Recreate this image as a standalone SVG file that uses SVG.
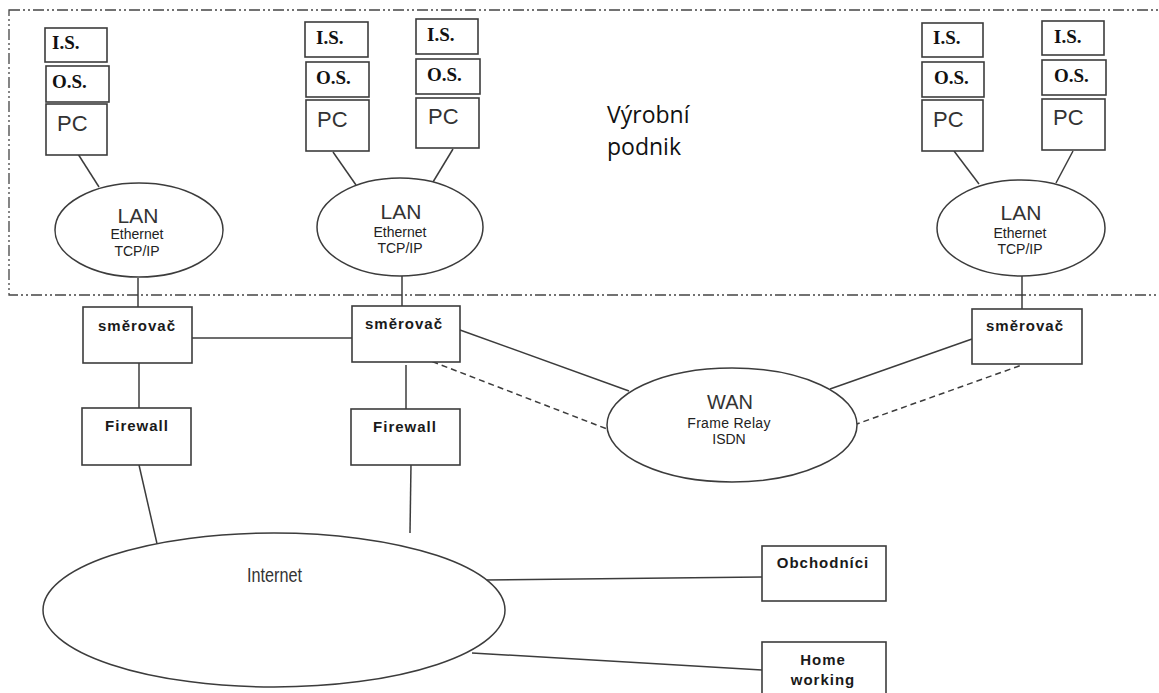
<svg xmlns="http://www.w3.org/2000/svg" width="1159" height="693" viewBox="0 0 1159 693">
<style>
.box{fill:#fff;stroke:#3c3c3c;stroke-width:1.6}
.ell{fill:#fff;stroke:#3c3c3c;stroke-width:1.5}
.ln{stroke:#3c3c3c;stroke-width:1.5;fill:none}
.dash{stroke:#3c3c3c;stroke-width:1.5;fill:none;stroke-dasharray:6 4}
.border{fill:none;stroke:#444;stroke-width:1.3;stroke-dasharray:11 3 2 3 2 3}
.os{font-family:"Liberation Serif",serif;font-weight:bold;font-size:19px;fill:#111}
.pc{font-family:"Liberation Sans",Arial,sans-serif;font-size:22px;fill:#333}
.lan{font-family:"Liberation Sans",Arial,sans-serif;font-size:21px;fill:#333;text-anchor:middle}
.sm{font-family:"Liberation Sans",Arial,sans-serif;font-size:14px;fill:#222;text-anchor:middle}
.bd{font-family:"Liberation Sans",Arial,sans-serif;font-weight:bold;font-size:15px;letter-spacing:1px;fill:#1a1a1a;text-anchor:middle}
.title{font-family:"Open Sans","Noto Sans",sans-serif;font-size:23px;fill:#111}
</style>

<rect class="border" x="9" y="10" width="1170" height="285"/>
<g id="title"><text class="title" x="607" y="123">Výrobní</text><text class="title" x="607" y="155">podnik</text></g>

<g id="connectors">
<line class="ln" x1="78" y1="154" x2="99" y2="187"/>
<line class="ln" x1="333" y1="152" x2="356" y2="185"/>
<line class="ln" x1="453" y1="149" x2="433" y2="182"/>
<line class="ln" x1="954" y1="151" x2="979" y2="184"/>
<line class="ln" x1="1073" y1="151" x2="1056" y2="183"/>
<line class="ln" x1="138" y1="278" x2="138" y2="307"/>
<line class="ln" x1="402" y1="276" x2="402" y2="306"/>
<line class="ln" x1="1022" y1="276" x2="1022" y2="309"/>
<line class="ln" x1="192" y1="338" x2="352" y2="338"/>
<line class="ln" x1="139" y1="363" x2="139" y2="408"/>
<line class="ln" x1="406" y1="365" x2="406" y2="409"/>
<line class="ln" x1="460" y1="330" x2="629" y2="391"/>
<line class="ln" x1="830" y1="389" x2="972" y2="339"/>
<line class="dash" x1="423" y1="358" x2="607" y2="429"/>
<line class="dash" x1="854" y1="425" x2="1022" y2="365"/>
<line class="ln" x1="139" y1="465" x2="158" y2="548"/>
<line class="ln" x1="411" y1="464" x2="410" y2="533"/>
<line class="ln" x1="485" y1="580" x2="762" y2="577"/>
<line class="ln" x1="472" y1="653" x2="762" y2="670"/>
</g>

<g id="pc1">
<rect class="box" x="45" y="28" width="62" height="34"/><text class="os" x="52" y="49">I.S.</text>
<rect class="box" x="46" y="66" width="63" height="36"/><text class="os" x="52" y="88">O.S.</text>
<rect class="box" x="46" y="104" width="61" height="51"/><text class="pc" x="57" y="131">PC</text>
</g>
<g id="pc2">
<rect class="box" x="305" y="22" width="63" height="35"/><text class="os" x="316" y="44">I.S.</text>
<rect class="box" x="306" y="62" width="63" height="35"/><text class="os" x="316" y="84">O.S.</text>
<rect class="box" x="306" y="100" width="63" height="51"/><text class="pc" x="317" y="127">PC</text>
</g>
<g id="pc3">
<rect class="box" x="416" y="19" width="62" height="35"/><text class="os" x="427" y="41">I.S.</text>
<rect class="box" x="416" y="59" width="64" height="35"/><text class="os" x="427" y="81">O.S.</text>
<rect class="box" x="416" y="98" width="63" height="50"/><text class="pc" x="428" y="124">PC</text>
</g>
<g id="pc4">
<rect class="box" x="922" y="23" width="61" height="34"/><text class="os" x="933" y="44">I.S.</text>
<rect class="box" x="922" y="62" width="62" height="35"/><text class="os" x="934" y="84">O.S.</text>
<rect class="box" x="922" y="100" width="61" height="51"/><text class="pc" x="933" y="127">PC</text>
</g>
<g id="pc5">
<rect class="box" x="1042" y="21" width="62" height="34"/><text class="os" x="1054" y="43">I.S.</text>
<rect class="box" x="1042" y="60" width="64" height="35"/><text class="os" x="1054" y="82">O.S.</text>
<rect class="box" x="1042" y="99" width="63" height="51"/><text class="pc" x="1053" y="125">PC</text>
</g>

<g id="lan1">
<ellipse class="ell" cx="139" cy="230" rx="84" ry="47"/>
<text class="lan" x="138" y="223">LAN</text><text class="sm" x="137" y="239">Ethernet</text><text class="sm" x="137" y="256">TCP/IP</text>
</g>
<g id="lan2">
<ellipse class="ell" cx="400" cy="227" rx="83" ry="49"/>
<text class="lan" x="401" y="219">LAN</text><text class="sm" x="400" y="237">Ethernet</text><text class="sm" x="400" y="253">TCP/IP</text>
</g>
<g id="lan3">
<ellipse class="ell" cx="1021" cy="228" rx="84" ry="48"/>
<text class="lan" x="1021" y="220">LAN</text><text class="sm" x="1020" y="238">Ethernet</text><text class="sm" x="1020" y="254">TCP/IP</text>
</g>

<g id="router1"><rect class="box" x="83" y="307" width="109" height="56"/><text class="bd" x="137" y="331">směrovač</text></g>
<g id="router2"><rect class="box" x="352" y="306" width="108" height="56"/><text class="bd" x="404" y="329">směrovač</text></g>
<g id="router3"><rect class="box" x="972" y="309" width="110" height="55"/><text class="bd" x="1025" y="331">směrovač</text></g>

<g id="firewall1"><rect class="box" x="82" y="408" width="109" height="57"/><text class="bd" x="137" y="431">Firewall</text></g>
<g id="firewall2"><rect class="box" x="351" y="409" width="109" height="56"/><text class="bd" x="405" y="432">Firewall</text></g>

<g id="wan">
<ellipse class="ell" cx="732" cy="425" rx="125" ry="57"/>
<text class="lan" x="730" y="409" style="font-size:20px">WAN</text>
<text class="sm" x="729" y="428" style="letter-spacing:0.3px">Frame Relay</text>
<text class="sm" x="729" y="444">ISDN</text>
</g>

<g id="internet">
<ellipse class="ell" cx="274" cy="610" rx="231" ry="77"/>
<text class="pc" x="247" y="582" style="font-size:20px" textLength="55" lengthAdjust="spacingAndGlyphs">Internet</text>
</g>

<g id="obchodnici"><rect class="box" x="762" y="546" width="124" height="55"/><text class="bd" x="823" y="568">Obchodníci</text></g>
<g id="homeworking"><rect class="box" x="762" y="642" width="124" height="60"/><text class="bd" x="823" y="665">Home</text><text class="bd" x="823" y="685">working</text></g>
</svg>
